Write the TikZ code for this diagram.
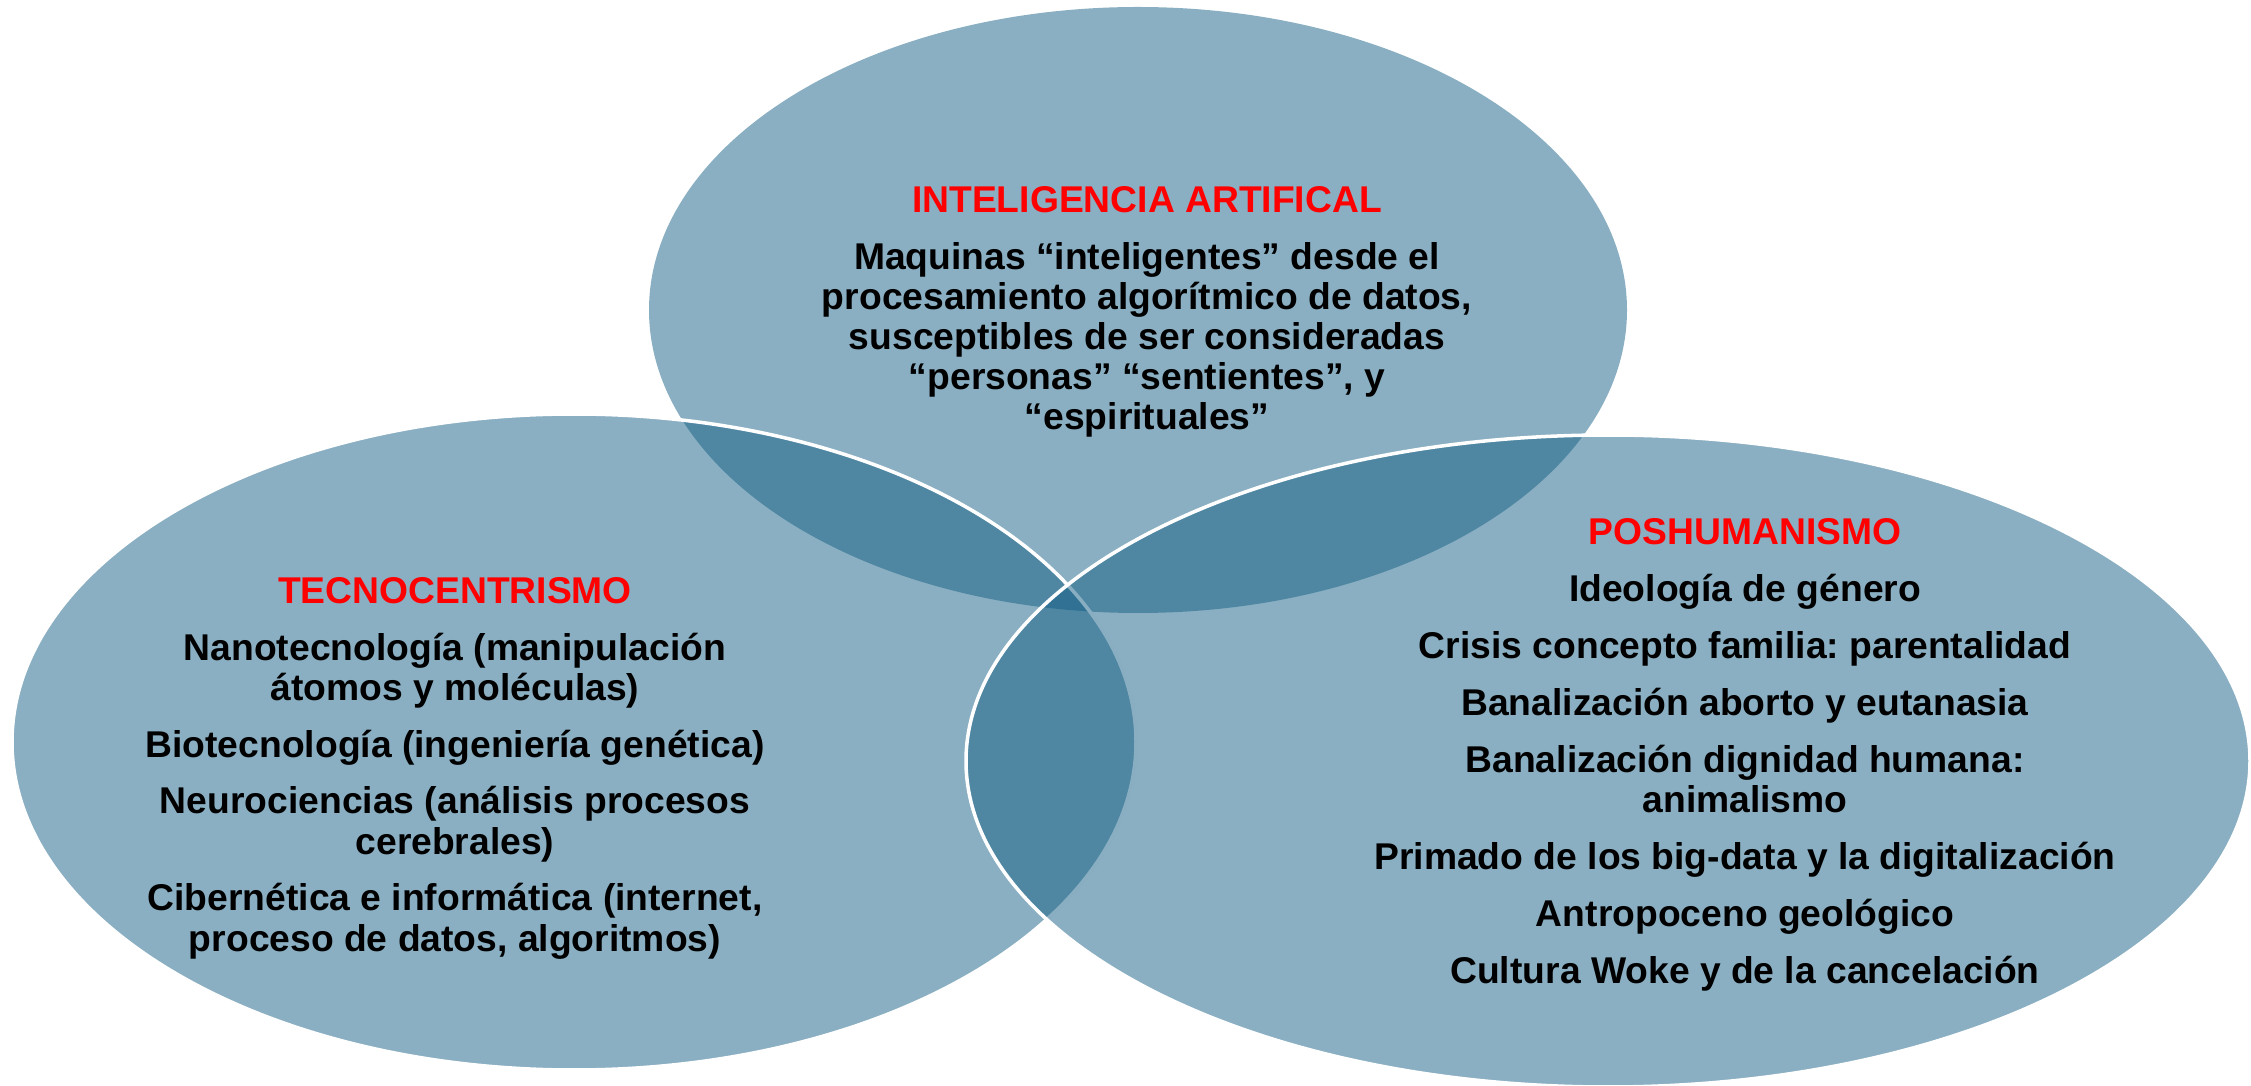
\documentclass[tikz,border=0pt]{standalone}
\usepackage{fontspec}
\setmainfont{Liberation Sans}
\usetikzlibrary{shapes.geometric}
\definecolor{venn}{RGB}{21,95,133}
\definecolor{rojo}{RGB}{255,0,0}

\begin{document}
\frenchspacing
\begin{tikzpicture}[
    circulo/.style={ellipse, inner sep=0pt, fill=venn, fill opacity=0.5},
    borde/.style={draw=white, line width=1pt},
    texto/.style={align=center, inner sep=0pt,
      font=\bfseries\fontsize{10.6}{11.4}\selectfont}
  ]
  \useasboundingbox (0,0) rectangle (22.51,10.85);
  % the three sets
  \node[circulo, minimum width=9.78cm, minimum height=6.06cm] (ia) at (11.38,7.75) {};
  \node[circulo, borde, minimum width=11.24cm, minimum height=6.56cm] (tecno) at (5.74,3.43) {};
  \node[circulo, borde, minimum width=12.84cm, minimum height=6.52cm] (poshum) at (16.08,3.24) {};
  % texts
  \node[texto] (iatext) at (11.47,7.73) {\textcolor{rojo}{INTELIGENCIA ARTIFICAL}\\[4.8pt]
    Maquinas “inteligentes” desde el\\
    procesamiento algorítmico de datos,\\
    susceptibles de ser consideradas\\
    “personas” “sentientes”, y\\
    “espirituales”};
  \node[texto] (tecnotext) at (4.55,3.17) {\textcolor{rojo}{TECNOCENTRISMO}\\[4.8pt]
    Nanotecnología (manipulación\\
    átomos y moléculas)\\[4.8pt]
    Biotecnología (ingeniería genética)\\[4.8pt]
    Neurociencias (análisis procesos\\
    cerebrales)\\[4.8pt]
    Cibernética e informática (internet,\\
    proceso de datos, algoritmos)};
  \node[texto] (poshumtext) at (17.45,3.30) {\textcolor{rojo}{POSHUMANISMO}\\[4.8pt]
    Ideología de género\\[4.8pt]
    Crisis concepto familia: parentalidad\\[4.8pt]
    Banalización aborto y eutanasia\\[4.8pt]
    Banalización dignidad humana:\\
    animalismo\\[4.8pt]
    Primado de los big-data y la digitalización\\[4.8pt]
    Antropoceno geológico\\[4.8pt]
    Cultura Woke y de la cancelación};
\end{tikzpicture}
\end{document}
